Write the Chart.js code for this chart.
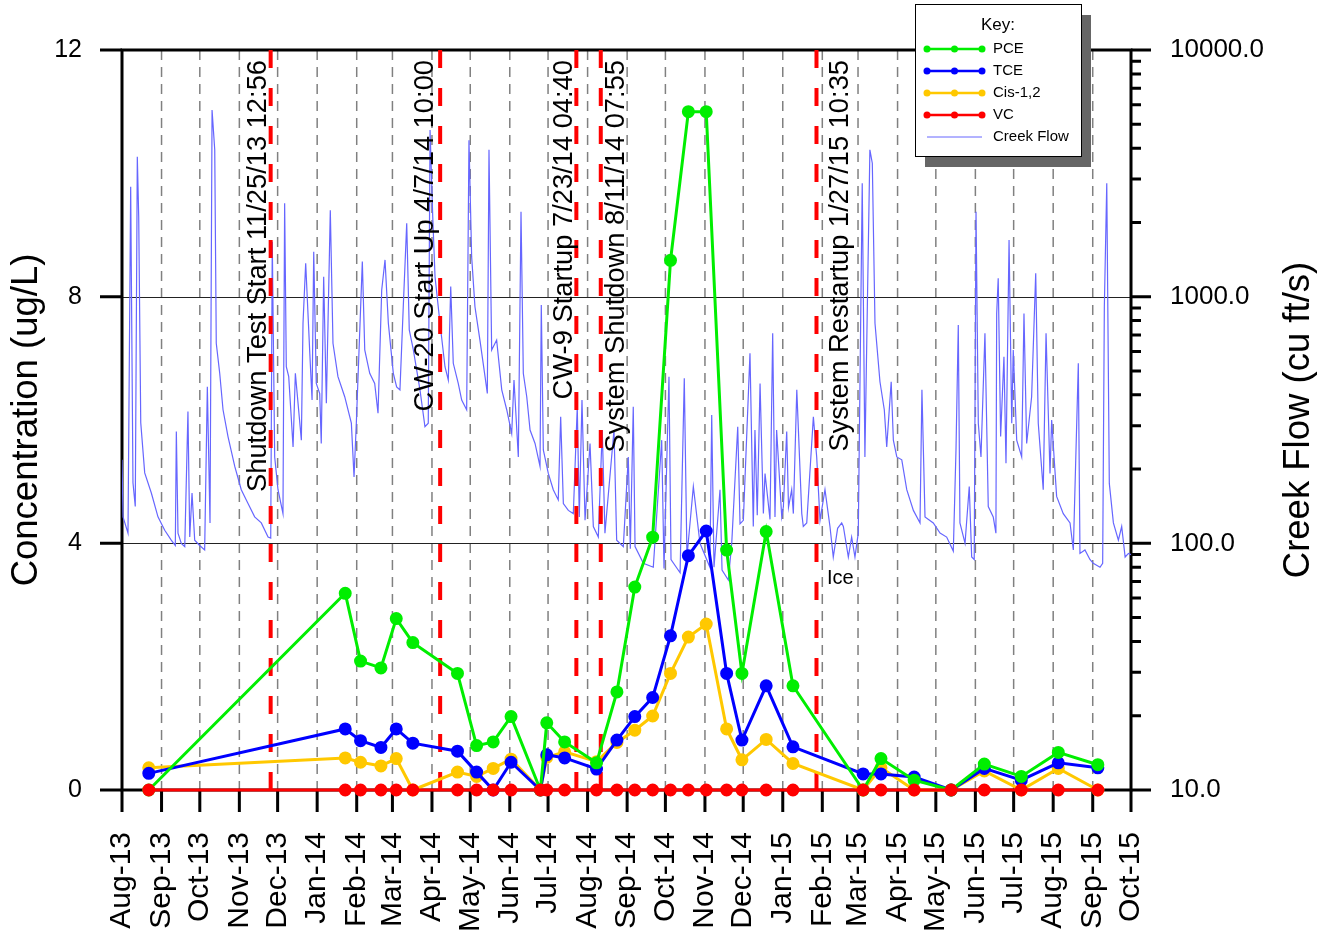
<!DOCTYPE html>
<html>
<head>
<meta charset="utf-8">
<title>Concentration and Creek Flow</title>
<script src="https://cdn.jsdelivr.net/npm/chart.js@4.4.0/dist/chart.umd.min.js"></script>
<style>
  html, body { margin: 0; padding: 0; background: #fff; }
  #chart { display: block; }
</style>
</head>
<body>
<canvas id="chart" width="1331" height="941"></canvas>
<script>
// Concentration samples (ug/L) and creek flow (cu ft/s)

const monthLabels = ['Aug-13', 'Sep-13', 'Oct-13', 'Nov-13', 'Dec-13', 'Jan-14', 'Feb-14', 'Mar-14', 'Apr-14',
    'May-14', 'Jun-14', 'Jul-14', 'Aug-14', 'Sep-14', 'Oct-14', 'Nov-14', 'Dec-14', 'Jan-15', 'Feb-15',
    'Mar-15', 'Apr-15', 'May-15', 'Jun-15', 'Jul-15', 'Aug-15', 'Sep-15', 'Oct-15'];

const sampleDates = ['2013-08-22', '2014-01-23', '2014-02-04', '2014-02-20', '2014-03-04', '2014-03-17',
    '2014-04-21', '2014-05-06', '2014-05-19', '2014-06-02', '2014-06-25', '2014-06-30', '2014-07-14',
    '2014-08-08', '2014-08-24', '2014-09-07', '2014-09-21', '2014-10-05', '2014-10-19', '2014-11-02',
    '2014-11-18', '2014-11-30', '2014-12-19', '2015-01-09', '2015-03-05', '2015-03-19', '2015-04-14',
    '2015-05-13', '2015-06-08', '2015-07-07', '2015-08-05', '2015-09-05'];

const pce = [0, 3.19, 2.09, 1.98, 2.78, 2.39, 1.89, 0.72, 0.78, 1.19, 0, 1.09, 0.78, 0.44, 1.59, 3.29,
    4.10, 8.59, 11.0, 11.0, 3.89, 1.89, 4.19, 1.69, 0, 0.51, 0.16, 0, 0.42, 0.22, 0.61, 0.41];
const tce = [0.27, 0.99, 0.80, 0.69, 0.99, 0.76, 0.63, 0.29, 0, 0.45, 0, 0.57, 0.52, 0.34, 0.81, 1.19,
    1.50, 2.50, 3.80, 4.20, 1.89, 0.81, 1.69, 0.70, 0.26, 0.26, 0.21, 0, 0.35, 0.16, 0.44, 0.36];
const cis12 = [0.36, 0.52, 0.45, 0.39, 0.51, 0, 0.29, 0.22, 0.35, 0.50, 0, 0.53, 0.62, 0.46, 0.77, 0.97,
    1.20, 1.89, 2.48, 2.69, 0.99, 0.49, 0.82, 0.43, 0, 0.36, 0, 0, 0.31, 0, 0.35, 0];
const vc = [0, 0, 0, 0, 0, 0, 0, 0, 0, 0, 0, 0, 0, 0, 0, 0,
    0, 0, 0, 0, 0, 0, 0, 0, 0, 0, 0, 0, 0, 0, 0, 0];

// [days since 1 Aug 2013, flow in cu ft/s]
const creekFlowReadings = [
    [0, 218], [0.8, 128], [4.7, 110], [6.8, 2790], [8.6, 176], [10.4, 141], [12.0, 3690], [13.1, 2110],
    [14.7, 308], [17.8, 193], [23.0, 160], [28.2, 128], [33.5, 113], [38.6, 103], [41.8, 98], [42.6, 284],
    [43.9, 110], [46.5, 100], [49.2, 97], [51.7, 342], [53.1, 106], [54.9, 160], [57.0, 103], [60.9, 98],
    [64.8, 94], [66.9, 431], [69.0, 121], [70.6, 5710], [72.7, 3940], [73.9, 647], [76.6, 489], [79.2, 348],
    [83.1, 271], [88.4, 205], [93.5, 165], [98.8, 145], [104.0, 128], [109.2, 121], [114.5, 106], [116.6, 105],
    [117.8, 1670], [119.7, 224], [122.3, 165], [126.2, 132], [127.5, 2390], [128.8, 520], [130.7, 474],
    [134.1, 246], [135.9, 489], [140.6, 262], [141.9, 780], [144.0, 1365], [147.1, 608], [149.0, 381],
    [150.3, 1520], [152.3, 445], [155.0, 405], [156.2, 254], [158.1, 1205], [160.2, 370], [163.3, 2240],
    [165.4, 647], [169.3, 474], [174.6, 393], [179.8, 307], [181.9, 186], [183.7, 307], [188.4, 1387],
    [190.3, 608], [194.2, 489], [198.1, 445], [200.7, 337], [203.6, 1065], [206.2, 1409], [208.8, 780],
    [212.7, 489], [215.3, 431], [217.9, 419], [220.5, 910], [223.2, 1982], [225.2, 733], [228.4, 608],
    [233.6, 419], [237.5, 297], [240.1, 307], [241.5, 4740], [243.6, 2110], [245.4, 1205], [249.3, 780],
    [253.2, 520], [255.8, 459], [257.7, 1100], [259.7, 537], [263.6, 445], [266.3, 381], [270.2, 348],
    [272.0, 4310], [274.1, 1453], [276.7, 910], [280.6, 667], [284.6, 474], [286.4, 405], [287.7, 3940],
    [289.8, 608], [293.7, 667], [297.7, 419], [301.6, 348], [305.5, 279], [307.3, 459], [310.7, 224],
    [312.8, 2210], [314.6, 489], [317.3, 393], [319.9, 288], [323.8, 254], [327.7, 205], [328.7, 925],
    [330.3, 239], [334.2, 192], [338.1, 165], [342.0, 150], [343.9, 326], [346.0, 145], [349.9, 136],
    [353.8, 132], [356.9, 358], [358.5, 128], [360.6, 381], [363.0, 124], [366.9, 254], [369.5, 117],
    [373.4, 106], [376.5, 288], [378.6, 110], [385.7, 288], [387.8, 103], [393.0, 97], [396.9, 224],
    [398.5, 95], [400.8, 358], [402.2, 97], [408.7, 83], [416.5, 80], [423.1, 262], [424.9, 79],
    [428.8, 474], [430.4, 86], [437.5, 76], [440.8, 467], [442.9, 88], [447.9, 170], [453.1, 100],
    [460.9, 80], [462.3, 331], [464.1, 80], [468.8, 165], [470.4, 78], [475.3, 71], [478.0, 100],
    [482.7, 297], [484.5, 120], [487.1, 124], [492.3, 589], [494.9, 117], [496.2, 288], [498.0, 130],
    [500.2, 445], [502.8, 132], [504.1, 192], [508.0, 125], [510.1, 710], [511.9, 128], [513.2, 288],
    [517.2, 128], [518.5, 141], [521.1, 284], [522.5, 140], [525.0, 165], [526.3, 132], [529.0, 419],
    [532.9, 132], [534.1, 117], [536.8, 121], [542.0, 326], [544.6, 224], [547.2, 124], [551.1, 165],
    [555.0, 117], [557.6, 88], [561.0, 115], [564.2, 121], [565.5, 117], [569.4, 88], [572.0, 106],
    [574.6, 88], [577.2, 110], [580.3, 2880], [582.4, 224], [586.3, 3940], [588.2, 3475], [590.3, 780],
    [594.2, 452], [597.6, 348], [599.5, 246], [603.0, 452], [604.7, 262], [607.4, 224], [611.3, 218],
    [615.2, 165], [620.4, 136], [625.6, 121], [627.1, 419], [629.5, 128], [636.0, 121], [641.3, 110],
    [646.5, 106], [651.7, 93], [653.8, 239], [655.6, 767], [656.9, 121], [660.9, 100], [664.2, 170],
    [666.1, 88], [668.1, 86], [669.5, 2210], [671.3, 307], [673.4, 224], [676.5, 710], [679.1, 141],
    [683.0, 128], [685.1, 110], [685.7, 855], [686.9, 1187], [688.8, 271], [691.4, 571], [693.0, 211],
    [695.4, 1698], [697.5, 307], [698.7, 608], [701.4, 262], [705.3, 224], [707.1, 855], [709.2, 254],
    [713.1, 393], [716.3, 1245], [718.3, 307], [722.2, 165], [724.4, 710], [727.5, 192], [728.8, 316],
    [732.7, 155], [737.9, 132], [743.2, 121], [745.8, 94], [749.7, 537], [751.0, 91], [754.9, 94],
    [758.8, 86], [761.4, 83], [766.7, 80], [768.8, 83], [770.1, 910], [772.0, 2880], [774.0, 175],
    [777.2, 121], [781.1, 103], [783.7, 117], [786.4, 88], [789.0, 91], [791, 90]
];

const flowTicks = [10, 100, 1000, 10000];
const concTicks = [0, 4, 8, 12];

const eventTimes = ['2013-11-25T12:56', '2014-04-07T10:00', '2014-07-23T04:40', '2014-08-11T07:55', '2015-01-27T10:35'];
const eventLabels = ['Shutdown Test Start 11/25/13 12:56', 'CW-20 Start Up 4/7/14 10:00',
    'CW-9 Startup 7/23/14 04:40', 'System Shutdown 8/11/14 07:55', 'System Restartup 1/27/15 10:35'];
// label baseline offset from its line (px), styling only
const eventLabelDx = [-5, -7, -4, 23, 32];

const FONT = '"Liberation Sans", Arial, Helvetica, sans-serif';
const START = Date.UTC(2013, 7, 1);
const DAY = 86400000;

function dayOf(s) {
    return (Date.parse(s.length > 10 ? s + 'Z' : s + 'T00:00Z') - START) / DAY;
}

const monthDays = monthLabels.map((_, i) => (Date.UTC(2013, 7 + i, 1) - START) / DAY);
const sampleDays = sampleDates.map(dayOf);
const eventDays = eventTimes.map(dayOf);

function series(values) {
    return values.map((v, i) => ({ x: sampleDays[i], y: v }));
}

function vText(ctx, text, x, y, align) {
    ctx.save();
    ctx.translate(x, y);
    ctx.rotate(-Math.PI / 2);
    ctx.textAlign = align;
    ctx.fillText(text, 0, 0);
    ctx.restore();
}

// keep the plot box fixed: no extra room for overhanging labels
function fixBox(w, h) {
    return s => {
        if (w) s.width = w;
        if (h) s.height = h;
        s.paddingTop = 0;
        s.paddingBottom = 0;
        s.paddingLeft = 0;
        s.paddingRight = 0;
    };
}

const decorations = {
    id: 'decorations',
    beforeDatasetsDraw(chart) {
        const { ctx, chartArea: a, scales } = chart;
        const x = scales.x, y = scales.y, flow = scales.flow;
        ctx.save();

        // monthly dashed grid
        ctx.strokeStyle = '#808080';
        ctx.lineWidth = 1.5;
        ctx.setLineDash([10, 7]);
        monthDays.forEach((d, i) => {
            if (i === 0 || i === monthDays.length - 1) return;
            const px = x.getPixelForValue(d);
            ctx.beginPath();
            ctx.moveTo(px, a.top);
            ctx.lineTo(px, a.bottom);
            ctx.stroke();
        });

        // concentration gridlines
        ctx.setLineDash([]);
        ctx.strokeStyle = '#222';
        ctx.lineWidth = 1;
        [4, 8].forEach(v => {
            const py = Math.round(y.getPixelForValue(v)) + 0.5;
            ctx.beginPath();
            ctx.moveTo(a.left, py);
            ctx.lineTo(a.right, py);
            ctx.stroke();
        });

        // frame and tick marks
        ctx.strokeStyle = '#000';
        ctx.lineWidth = 3;
        ctx.strokeRect(a.left, a.top, a.right - a.left, a.bottom - a.top);
        ctx.beginPath();
        concTicks.forEach(v => {
            const py = y.getPixelForValue(v);
            ctx.moveTo(a.left - 22, py);
            ctx.lineTo(a.left, py);
        });
        monthDays.forEach(d => {
            const px = x.getPixelForValue(d);
            ctx.moveTo(px, a.bottom);
            ctx.lineTo(px, a.bottom + 22);
        });
        for (let p = 10; p < 10000; p *= 10) {
            for (let m = 1; m <= 10; m++) {
                const py = flow.getPixelForValue(p * m);
                ctx.moveTo(a.right, py);
                ctx.lineTo(a.right + (m === 1 || m === 10 ? 20 : 10), py);
            }
        }
        ctx.stroke();
        ctx.restore();
    },
    afterDatasetDraw(chart, args) {
        if (chart.data.datasets[args.index].label !== 'Creek Flow') return;
        const { ctx, chartArea: a, scales: { x } } = chart;
        ctx.save();
        ctx.strokeStyle = '#ff0000';
        ctx.lineWidth = 4;
        ctx.setLineDash([18, 20]);
        eventDays.forEach(d => {
            const px = x.getPixelForValue(d);
            ctx.beginPath();
            ctx.moveTo(px, a.bottom);
            ctx.lineTo(px, a.top);
            ctx.stroke();
        });
        ctx.restore();
    },
    afterDraw(chart) {
        const { ctx, chartArea: a, scales: { x } } = chart;
        ctx.save();
        ctx.fillStyle = '#000';
        ctx.textBaseline = 'alphabetic';

        // event labels
        ctx.font = '27.3px ' + FONT;
        eventDays.forEach((d, i) => {
            vText(ctx, eventLabels[i], x.getPixelForValue(d) + eventLabelDx[i], 60, 'right');
        });

        // axis titles
        ctx.font = '36.5px ' + FONT;
        vText(ctx, 'Concentration (ug/L)', 37, (a.top + a.bottom) / 2, 'center');
        vText(ctx, 'Creek Flow (cu ft/s)', 1309, (a.top + a.bottom) / 2, 'center');

        // note
        ctx.font = '20px ' + FONT;
        ctx.textAlign = 'left';
        ctx.textBaseline = 'middle';
        ctx.fillText('Ice', 827, 578);

        // key
        const bx = 915, by = 4, bw = 166, bh = 152;
        ctx.fillStyle = '#666';
        ctx.fillRect(bx + 10, by + 11, bw, bh);
        ctx.fillStyle = '#fff';
        ctx.fillRect(bx, by, bw, bh);
        ctx.strokeStyle = '#000';
        ctx.lineWidth = 1;
        ctx.strokeRect(bx + 0.5, by + 0.5, bw, bh);
        ctx.fillStyle = '#000';
        ctx.font = '17px ' + FONT;
        ctx.textAlign = 'center';
        ctx.fillText('Key:', 998, 25);

        ctx.font = '15px ' + FONT;
        ctx.textAlign = 'left';
        const rowY = [49, 71, 93, 115, 137];
        chart.data.datasets.forEach((ds, i) => {
            const ry = rowY[i];
            ctx.strokeStyle = ds.borderColor;
            ctx.lineWidth = ds.pointRadius ? 2.5 : 1;
            ctx.beginPath();
            ctx.moveTo(927, ry);
            ctx.lineTo(982, ry);
            ctx.stroke();
            if (ds.pointRadius) {
                ctx.fillStyle = ds.borderColor;
                [927, 954.5, 982].forEach(px => {
                    ctx.beginPath();
                    ctx.arc(px, ry, 3.5, 0, Math.PI * 2);
                    ctx.fill();
                });
            }
            ctx.fillStyle = '#000';
            ctx.fillText(ds.label, 993, ry);
        });
        ctx.restore();
    }
};

function sampleSet(label, values, color, order) {
    return {
        label: label,
        data: series(values),
        borderColor: color,
        backgroundColor: color,
        pointBackgroundColor: color,
        pointBorderColor: color,
        borderWidth: 3,
        pointRadius: 5,
        pointHoverRadius: 5,
        yAxisID: 'y',
        order: order,
        clip: false
    };
}

const ctx = document.getElementById('chart').getContext('2d');
new Chart(ctx, {
    type: 'line',
    data: {
        datasets: [
            sampleSet('PCE', pce, '#00ee00', 2),
            sampleSet('TCE', tce, '#0000ff', 3),
            sampleSet('Cis-1,2', cis12, '#ffc800', 4),
            sampleSet('VC', vc, '#ff0000', 1),
            {
                label: 'Creek Flow',
                data: creekFlowReadings.map(r => ({ x: r[0], y: r[1] })),
                borderColor: '#6666ff',
                backgroundColor: '#6666ff',
                borderWidth: 1.2,
                pointRadius: 0,
                yAxisID: 'flow',
                order: 9
            }
        ]
    },
    options: {
        responsive: false,
        animation: false,
        events: [],
        layout: { padding: { top: 50, left: 0, right: 0, bottom: 0 } },
        plugins: { legend: { display: false }, tooltip: { enabled: false } },
        scales: {
            x: {
                type: 'linear',
                min: 0,
                max: monthDays[monthDays.length - 1],
                afterBuildTicks: s => { s.ticks = monthDays.map(v => ({ value: v })); },
                afterFit: fixBox(0, 151),
                grid: { display: false, drawTicks: false },
                border: { display: false },
                ticks: {
                    autoSkip: false,
                    minRotation: 90,
                    maxRotation: 90,
                    padding: 42,
                    color: '#000',
                    font: { family: FONT, size: 30 },
                    callback: (v, i) => monthLabels[i]
                }
            },
            y: {
                position: 'left',
                min: 0,
                max: 12,
                afterBuildTicks: s => { s.ticks = concTicks.map(v => ({ value: v })); },
                afterFit: fixBox(122, 0),
                grid: { display: false, drawTicks: false },
                border: { display: false },
                ticks: { padding: 40, color: '#000', font: { family: FONT, size: 25 } }
            },
            flow: {
                type: 'logarithmic',
                position: 'right',
                min: 10,
                max: 10000,
                afterBuildTicks: s => { s.ticks = flowTicks.map(v => ({ value: v })); },
                afterFit: fixBox(200, 0),
                grid: { display: false, drawTicks: false },
                border: { display: false },
                ticks: {
                    padding: 39,
                    color: '#000',
                    font: { family: FONT, size: 26 },
                    callback: v => Number(v).toFixed(1)
                }
            }
        }
    },
    plugins: [decorations]
});
</script>
</body>
</html>
